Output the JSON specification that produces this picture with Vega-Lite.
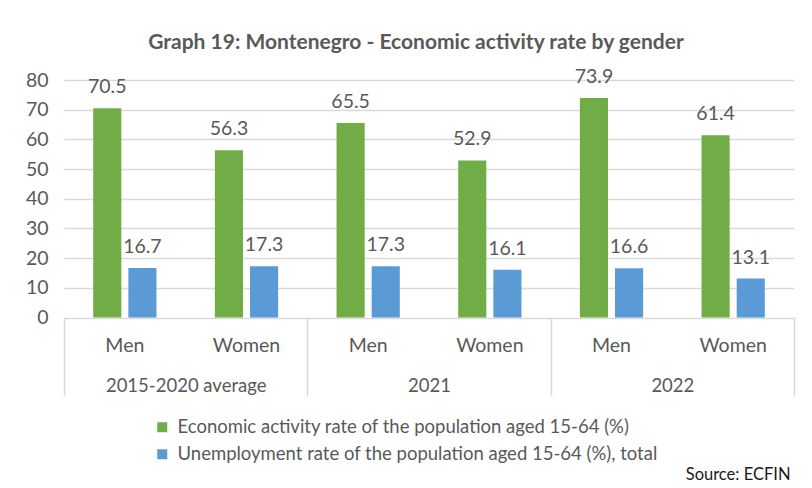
{
  "$schema": "https://vega.github.io/schema/vega-lite/v6.json",
  "width": 730,
  "height": 237.5,
  "autosize": {"type": "none"},
  "padding": {"left": 64, "top": 80, "right": 18, "bottom": 170.5},
  "background": "white",
  "config": {"font": "Lato", "view": {"stroke": null}},
  "title": {
    "text": "Graph 19: Montenegro - Economic activity rate by gender",
    "fontSize": 21,
    "fontWeight": "bold",
    "color": "#595959",
    "frame": "group",
    "anchor": "middle",
    "offset": 14,
    "dx": -13
  },
  "data": {
    "values": [
      {"group": "2015-2020 average", "gender": "Men", "slot": "2015-2020 average|Men", "series": "Economic activity rate of the population aged 15-64 (%)", "value": 70.5},
      {"group": "2015-2020 average", "gender": "Men", "slot": "2015-2020 average|Men", "series": "Unemployment rate of the population aged 15-64 (%), total", "value": 16.7},
      {"group": "2015-2020 average", "gender": "Women", "slot": "2015-2020 average|Women", "series": "Economic activity rate of the population aged 15-64 (%)", "value": 56.3},
      {"group": "2015-2020 average", "gender": "Women", "slot": "2015-2020 average|Women", "series": "Unemployment rate of the population aged 15-64 (%), total", "value": 17.3},
      {"group": "2021", "gender": "Men", "slot": "2021|Men", "series": "Economic activity rate of the population aged 15-64 (%)", "value": 65.5},
      {"group": "2021", "gender": "Men", "slot": "2021|Men", "series": "Unemployment rate of the population aged 15-64 (%), total", "value": 17.3},
      {"group": "2021", "gender": "Women", "slot": "2021|Women", "series": "Economic activity rate of the population aged 15-64 (%)", "value": 52.9},
      {"group": "2021", "gender": "Women", "slot": "2021|Women", "series": "Unemployment rate of the population aged 15-64 (%), total", "value": 16.1},
      {"group": "2022", "gender": "Men", "slot": "2022|Men", "series": "Economic activity rate of the population aged 15-64 (%)", "value": 73.9},
      {"group": "2022", "gender": "Men", "slot": "2022|Men", "series": "Unemployment rate of the population aged 15-64 (%), total", "value": 16.6},
      {"group": "2022", "gender": "Women", "slot": "2022|Women", "series": "Economic activity rate of the population aged 15-64 (%)", "value": 61.4},
      {"group": "2022", "gender": "Women", "slot": "2022|Women", "series": "Unemployment rate of the population aged 15-64 (%), total", "value": 13.1}
    ]
  },
  "layer": [
    {
      "encoding": {
        "x": {
          "field": "slot",
          "type": "nominal",
          "sort": null,
          "scale": {"paddingInner": 0.48, "paddingOuter": 0.24},
          "axis": {
            "orient": "bottom",
            "title": null,
            "labelExpr": "split(datum.label, '|')[1]",
            "labelFontSize": 19.5,
            "labelColor": "#595959",
            "labelPadding": 19,
            "labelAngle": 0,
            "ticks": false,
            "domain": false,
            "grid": false
          }
        },
        "xOffset": {
          "field": "series",
          "type": "nominal",
          "sort": null,
          "scale": {"paddingInner": 0.2, "paddingOuter": 0}
        },
        "y": {
          "field": "value",
          "type": "quantitative",
          "scale": {"domain": [0, 80]},
          "axis": {
            "title": null,
            "values": [0, 10, 20, 30, 40, 50, 60, 70, 80],
            "labelFontSize": 19.5,
            "labelColor": "#595959",
            "labelPadding": 16,
            "ticks": false,
            "domain": false,
            "grid": true,
            "gridColor": "#d9d9d9",
            "gridWidth": 1.5
          }
        }
      },
      "layer": [
        {
          "mark": {"type": "bar"},
          "encoding": {
            "color": {
              "field": "series",
              "type": "nominal",
              "sort": null,
              "scale": {
                "domain": ["Economic activity rate of the population aged 15-64 (%)", "Unemployment rate of the population aged 15-64 (%), total"],
                "range": ["#70ad47", "#5b9bd5"]
              },
              "legend": {
                "orient": "none",
                "legendX": 89,
                "legendY": 338,
                "padding": 0,
                "title": null,
                "symbolType": "square",
                "symbolSize": 100,
                "symbolStrokeWidth": 0,
                "labelFontSize": 18.5,
                "labelColor": "#595959",
                "labelOffset": 6,
                "rowPadding": 8,
                "labelLimit": 700
              }
            }
          }
        },
        {
          "mark": {"type": "text", "dy": -21, "baseline": "middle", "fontSize": 19.5, "color": "#595959"},
          "encoding": {
            "text": {"field": "value", "type": "quantitative", "format": ".1f"}
          }
        }
      ]
    },
    {
      "mark": {"type": "rule", "opacity": 0},
      "encoding": {
        "x": {
          "field": "group",
          "type": "nominal",
          "sort": null,
          "scale": {"paddingInner": 0, "paddingOuter": 0},
          "axis": {
            "orient": "bottom",
            "offset": 0,
            "title": "Source: ECFIN",
            "titleFontSize": 16.5,
            "titleFontWeight": "normal",
            "titleColor": "#1a1a1a",
            "titleX": 726,
            "titleY": 149,
            "titleAlign": "right",
            "titleBaseline": "top",
            "labelFontSize": 18.5,
            "labelColor": "#595959",
            "labelAngle": 0,
            "labelPadding": -19,
            "tickBand": "extent",
            "tickSize": 78,
            "tickColor": "#d9d9d9",
            "tickWidth": 1.5,
            "domain": false,
            "grid": false
          }
        }
      }
    }
  ],
  "resolve": {"scale": {"x": "independent"}}
}
